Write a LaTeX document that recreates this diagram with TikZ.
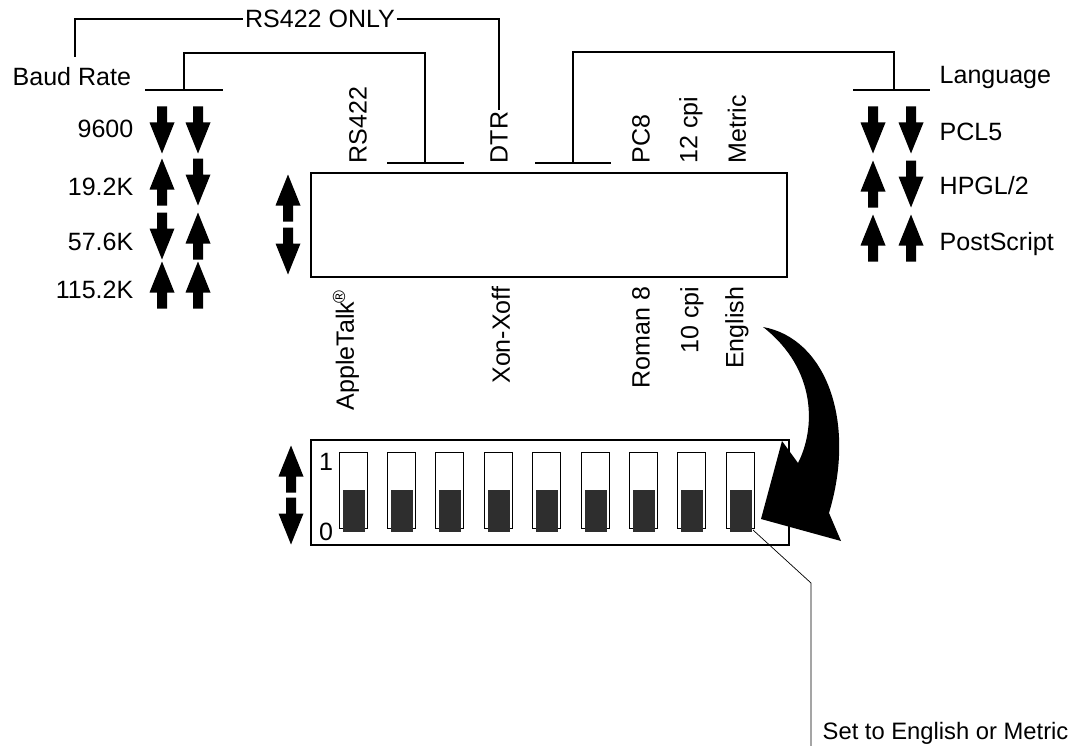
\documentclass[tikz,border=0pt]{standalone}
\usepackage{fontspec}
\setmainfont{Liberation Sans}
\usepackage{tikz}
\usetikzlibrary{positioning}
\tikzset{
  every picture/.style={line join=miter},
  lbl/.style={font=\fontsize{17.8}{20}\selectfont, inner sep=1pt},
  vlbl/.style={lbl, rotate=90},
  bar/.style={line width=1.5pt},
  slot/.style={line width=0.7pt},
  knob/.style={fill=black!82},
  leader/.style={line width=0.5pt},
  % small switch direction arrows, drawn about their centre
  dnarrow/.pic={\fill (-5,-23.5) -- (5,-23.5) -- (5,-7.5) -- (12.5,-7.5)
     -- (0,23.5) -- (-12.5,-7.5) -- (-5,-7.5) -- cycle;},
  uparrow/.pic={\fill (-5,23.5) -- (5,23.5) -- (5,7.5) -- (12.5,7.5)
     -- (0,-23.5) -- (-12.5,7.5) -- (-5,7.5) -- cycle;},
}
\begin{document}
\begin{tikzpicture}[x=0.025cm, y=-0.025cm]
    \useasboundingbox (0,0) rectangle (1073,749);

    % Side labels
    \node[lbl, anchor=west] (brate) at (11,77) {Baud Rate};
    \node[lbl, anchor=west] (lang) at (938,77) {Language};
    \node[lbl] (only) at (320,19) {RS422 ONLY};

    % Baud rate settings
    \node[lbl, anchor=east] (b1) at (135,129) {9600};
    \node[lbl, anchor=east] (b2) at (135,187) {19.2K};
    \node[lbl, anchor=east] (b3) at (135,242) {57.6K};
    \node[lbl, anchor=east] (b4) at (135,290) {115.2K};
    \pic at (162,130) {dnarrow};  \pic at (198,130) {dnarrow};
    \pic at (162,182) {uparrow};  \pic at (198,182) {dnarrow};
    \pic at (162,236) {dnarrow};  \pic at (198,236) {uparrow};
    \pic at (162,285) {uparrow};  \pic at (198,285) {uparrow};

    % Language settings
    \node[lbl, anchor=west] (l1) at (938,132) {PCL5};
    \node[lbl, anchor=west] (l2) at (938,186) {HPGL/2};
    \node[lbl, anchor=west] (l3) at (938,244) {PostScript};
    \pic at (873,130) {dnarrow};  \pic at (911,130) {dnarrow};
    \pic at (873,184) {uparrow};  \pic at (911,184) {dnarrow};
    \pic at (873,238) {uparrow};  \pic at (911,238) {uparrow};

    % Key box with its switch meanings
    \draw[bar] (311,173) rectangle (787,277);
    \pic at (288,198) {uparrow};
    \pic at (288,251) {dnarrow};
    \node[vlbl, anchor=west] (rs) at (358,165) {RS422};
    \node[vlbl, anchor=west] (dtr) at (499,165) {DTR};
    \node[vlbl, anchor=west] (pc) at (641,165) {PC8};
    \node[vlbl, anchor=west] (cpa) at (691,165) {12 cpi};
    \node[vlbl, anchor=west] (met) at (737,165) {Metric};
    \node[vlbl, anchor=east] (apple) at (346,288) {AppleTalk\kern-1pt\textsuperscript{\textregistered}};
    \node[vlbl, anchor=east] (xon) at (501,285) {Xon-Xoff};
    \node[vlbl, anchor=east] (rom) at (641,285) {Roman 8};
    \node[vlbl, anchor=east] (cpb) at (692,285) {10 cpi};
    \node[vlbl, anchor=east] (eng) at (737,285) {English};

    % Brackets grouping the switches
    \draw[bar] (145,90) -- (223,90);
    \draw[bar] (387,163) -- (464,163);
    \draw[bar] (184,90) |- (425,53) -- (425,163);
    \draw[bar] (535,163) -- (611,163);
    \draw[bar] (853,90) -- (930,90);
    \draw[bar] (573,163) |- (894,52) -- (894,90);
    \draw[bar] (75,57) |- (only.west);
    \draw[bar] (only.east) -| (dtr.east);

    % DIP switch block
    \draw[bar] (311,440) rectangle (789,545);
    \pic at (291,469) {uparrow};
    \pic at (291,521) {dnarrow};
    \node[lbl] (one) at (326,462) {1};
    \node[lbl] (zero) at (326,532) {0};
    \foreach \i in {0,...,8} {
      \draw[slot] ({339+48.4*\i},452) rectangle ++(28,76);
      \fill[knob] ({342.5+48.4*\i},490) rectangle ++(22,42);
    }

    % Big curved arrow
    \fill (763,327) .. controls (825,338) and (857,420) .. (829,513)
      -- (841,541) -- (761,519) -- (782,441) -- (798,463)
      .. controls (815,430) and (818,370) .. (763,327) -- cycle;

    % Note
    \node[lbl, font=\fontsize{16.9}{20}\selectfont, anchor=west] (note) at (821,733) {Set to English or Metric};
    \coordinate (knob9) at (753,530);
    \coordinate (bend) at (811,583);
    \draw[leader] (knob9) -- (bend) -- (bend |- note.south);
\end{tikzpicture}
\end{document}
